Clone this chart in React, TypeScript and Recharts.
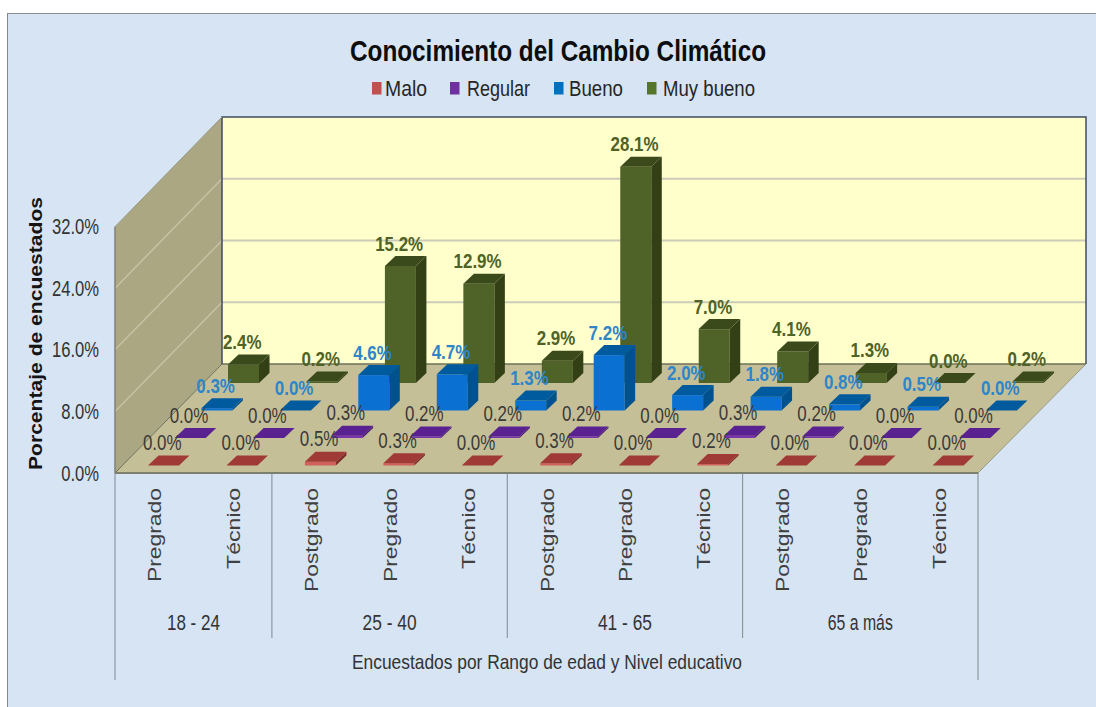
import React from "react";
import { ComposedChart, Bar, Line, XAxis, YAxis, LabelList } from "recharts";

const CHART_TITLE = "Conocimiento del Cambio Climático";
const X_TITLE = "Encuestados por Rango de edad y Nivel educativo";
const Y_TITLE = "Porcentaje de encuestados";

const levels = ["Pregrado", "Técnico", "Postgrado", "Pregrado", "Técnico", "Postgrado", "Pregrado", "Técnico", "Postgrado", "Pregrado", "Técnico"];
const ageGroups = ["18 - 24", "25 - 40", "41 - 65", "65 a más"];
const ageGroupSizes = [2, 3, 3, 3];

const malo = [0.0, 0.0, 0.5, 0.3, 0.0, 0.3, 0.0, 0.2, 0.0, 0.0, 0.0];
const regular = [0.0, 0.0, 0.3, 0.2, 0.2, 0.2, 0.0, 0.3, 0.2, 0.0, 0.0];
const bueno = [0.3, 0.0, 4.6, 4.7, 1.3, 7.2, 2.0, 1.8, 0.8, 0.5, 0.0];
const muyBueno = [2.4, 0.2, 15.2, 12.9, 2.9, 28.1, 7.0, 4.1, 1.3, 0.0, 0.2];
const yTicks = [0, 8, 16, 24, 32];

const rows = levels.map((nivel, i) => ({
  id: `${i}-${nivel}`,
  nivel,
  malo: malo[i],
  regular: regular[i],
  bueno: bueno[i],
  muyBueno: muyBueno[i],
}));

// Floor and wall geometry of the oblique projection.
const WIDTH = 1096;
const HEIGHT = 707;
const PLOT = { left: 115, right: 978, top: 226.7, bottom: 473 };
const BACK = { left: 222, right: 1086, top: 117, bottom: 364 };
const BAND = (PLOT.right - PLOT.left) / levels.length;
const BAR_DEPTH_X = 10.5;
const BAR_DEPTH_Y = 10;
const wallY = (v: number) => BACK.bottom - (v / 32) * (BACK.bottom - BACK.top);
const sideY = (v: number) => PLOT.bottom - (v / 32) * (PLOT.bottom - PLOT.top);

// Series are listed back to front, so nearer bars paint over farther ones.
const series = [
  { key: "muyBueno", name: "Muy bueno", dx: 89, dy: 90, front: "#4F6228", top: "#3B4A1B", side: "#333F14", label: "#4F6228", bold: true },
  { key: "bueno", name: "Bueno", dx: 62.4, dy: 62.5, front: "#0A70D2", top: "#005A9E", side: "#00528F", label: "#2E86C8", bold: true },
  { key: "regular", name: "Regular", dx: 35.7, dy: 35, front: "#7A35AE", top: "#5A2290", side: "#4B1C78", label: "#3A3A3A", bold: false },
  { key: "malo", name: "Malo", dx: 9, dy: 7.5, front: "#D0605A", top: "#A03A36", side: "#7F2D2B", label: "#3A3A3A", bold: false },
];
const legendItems = [
  { name: "Malo", color: "#C0504D", sq: 372, tx: 385, w: 42 },
  { name: "Regular", color: "#7030A0", sq: 450, tx: 467, w: 63 },
  { name: "Bueno", color: "#0070C0", sq: 554, tx: 569, w: 54 },
  { name: "Muy bueno", color: "#55752B", sq: 647, tx: 663, w: 92 },
];

const FONT = "'Liberation Sans', Arial, sans-serif";
const BOLD_LABEL_SIZE = 21;
const PLAIN_LABEL_SIZE = 22;
const groupLabelWidths = [53, 54, 54, 65];

// Width of a percentage string in a horizontally condensed Liberation Sans.
const valueWidth = (s: string, refSize = 20) => {
  let em = 0;
  for (const c of s) em += c === "." ? 0.278 : c === "%" ? 0.889 : 0.556;
  return em * refSize * 0.83;
};

const pct = (v: number) => `${v.toFixed(1)}%`;

const makeBarShape = (s: (typeof series)[number]) => (props: any) => {
  const { x, y, width, height } = props;
  const l = x + s.dx;
  const r = l + width;
  const t = y - s.dy;
  const b = t + Math.max(height, 0);
  return (
    <g>
      <rect x={l} y={t} width={width} height={Math.max(height, 0)} fill={s.front} />
      <polygon points={`${r},${t} ${r + BAR_DEPTH_X},${t - BAR_DEPTH_Y} ${r + BAR_DEPTH_X},${b - BAR_DEPTH_Y} ${r},${b}`} fill={s.side} />
      <polygon points={`${l},${t} ${r},${t} ${r + BAR_DEPTH_X},${t - BAR_DEPTH_Y} ${l + BAR_DEPTH_X},${t - BAR_DEPTH_Y}`} fill={s.top} />
    </g>
  );
};

const makeValueLabel = (s: (typeof series)[number]) => (props: any) => {
  const { x, y, value, index } = props;
  const text = pct(Number(value));
  return (
    <text
      key={index}
      x={x + s.dx - 1}
      y={y - s.dy - 15.5}
      textAnchor="middle"
      fontFamily={FONT}
      fontSize={s.bold ? BOLD_LABEL_SIZE : PLAIN_LABEL_SIZE}
      fontWeight={s.bold ? 700 : 400}
      fill={s.label}
      textLength={valueWidth(text, 20.4)}
      lengthAdjust="spacingAndGlyphs"
    >
      {text}
    </text>
  );
};

const firstOfGroup = ageGroupSizes.map((_, g) => ageGroupSizes.slice(0, g).reduce((a, n) => a + n, 0));

const CategoryTick = (props: any) => {
  const { x, index, payload } = props;
  const nivel = rows[index]?.nivel ?? payload.value;
  const len = nivel === "Postgrado" ? 104 : nivel === "Pregrado" ? 94 : 81;
  const g = firstOfGroup.indexOf(index);
  const edge = x - BAND / 2;
  return (
    <g>
      <text
        transform={`translate(${x + 7},488) rotate(-90)`}
        textAnchor="end"
        fontFamily={FONT}
        fontSize={18}
        fill="#404040"
        textLength={len}
        lengthAdjust="spacingAndGlyphs"
      >
        {nivel}
      </text>
      {g >= 0 && (
        <>
          <line x1={edge} x2={edge} y1={PLOT.bottom} y2={g === 0 ? 680 : 638} stroke="#7F8A92" strokeWidth={1} />
          <text
            x={edge + (ageGroupSizes[g] * BAND) / 2}
            y={629.5}
            textAnchor="middle"
            fontFamily={FONT}
            fontSize={22}
            fill="#333333"
            textLength={groupLabelWidths[g]}
            lengthAdjust="spacingAndGlyphs"
          >
            {ageGroups[g]}
          </text>
        </>
      )}
      {index === levels.length - 1 && (
        <line x1={x + BAND / 2} x2={x + BAND / 2} y1={PLOT.bottom} y2={680} stroke="#7F8A92" strokeWidth={1} />
      )}
    </g>
  );
};

const PercentTick = (props: any) => {
  const { x, y, payload } = props;
  const text = pct(Number(payload.value));
  return (
    <text
      x={x - 8}
      y={y + 7.5}
      textAnchor="end"
      fontFamily={FONT}
      fontSize={22}
      fill="#333333"
      textLength={valueWidth(text)}
      lengthAdjust="spacingAndGlyphs"
    >
      {text}
    </text>
  );
};

export default function App() {
  return (
    <div style={{ position: "absolute", left: 0, top: 0, width: WIDTH, height: HEIGHT, overflow: "hidden", background: "#FFFFFF" }}>
      <div
        style={{
          position: "absolute",
          left: 7,
          top: 13,
          right: 0,
          bottom: 0,
          background: "#D6E4F3",
          borderLeft: "1.5px solid #7F8A8A",
          borderTop: "1.5px solid #8E8E8E",
        }}
      />
      <div style={{ position: "absolute", left: 0, top: 0 }}>
        <ComposedChart
          width={WIDTH}
          height={HEIGHT}
          data={rows}
          margin={{ left: 55, right: WIDTH - PLOT.right, top: PLOT.top, bottom: 0 }}
        >
          {/* Back wall, left wall and floor */}
          <polygon
            points={`${BACK.left},${BACK.top} ${BACK.right},${BACK.top} ${BACK.right},${BACK.bottom} ${BACK.left},${BACK.bottom}`}
            fill="#FFFFCC"
          />
          <polygon
            points={`${PLOT.left},${PLOT.top} ${BACK.left},${BACK.top} ${BACK.left},${BACK.bottom} ${PLOT.left},${PLOT.bottom}`}
            fill="#ABA782"
          />
          <polygon
            points={`${PLOT.left},${PLOT.bottom} ${BACK.left},${BACK.bottom} ${BACK.right},${BACK.bottom} ${PLOT.right},${PLOT.bottom}`}
            fill="#C5BF97"
          />
          {yTicks.slice(1, -1).map((v) => (
            <g key={v}>
              <line x1={BACK.left} x2={BACK.right} y1={wallY(v)} y2={wallY(v)} stroke="#CBCBB8" strokeWidth={2} />
              <line x1={PLOT.left} x2={BACK.left} y1={sideY(v)} y2={wallY(v)} stroke="#C6C2A4" strokeWidth={1.5} />
            </g>
          ))}
          <line x1={BACK.left} x2={BACK.right} y1={BACK.bottom} y2={BACK.bottom} stroke="#6E7258" strokeWidth={1.5} />
          <polyline
            points={`${BACK.left},${BACK.bottom} ${BACK.left},${BACK.top} ${BACK.right},${BACK.top} ${BACK.right},${BACK.bottom}`}
            fill="none"
            stroke="#3F4C5C"
            strokeWidth={1.5}
          />
          <line x1={PLOT.left} x2={BACK.left} y1={PLOT.top} y2={BACK.top} stroke="#9A9A88" strokeWidth={1} />
          <line x1={PLOT.left} x2={BACK.left} y1={PLOT.bottom} y2={BACK.bottom} stroke="#6E7258" strokeWidth={1} />
          <line x1={PLOT.right} x2={BACK.right} y1={PLOT.bottom} y2={BACK.bottom} stroke="#9A9A88" strokeWidth={1} />

          <XAxis
            xAxisId="base"
            dataKey="id"
            interval={0}
            height={HEIGHT - PLOT.bottom}
            axisLine={{ stroke: "#7C7F6C", strokeWidth: 2 }}
            tickLine={false}
            tick={CategoryTick}
          />
          {series.map((s) => (
            <XAxis key={s.key} xAxisId={s.key} dataKey="id" hide />
          ))}
          <YAxis
            domain={[0, 32]}
            ticks={yTicks}
            width={60}
            axisLine={{ stroke: "#808078", strokeWidth: 1.5 }}
            tickLine={false}
            tick={PercentTick}
            interval={0}
          />

          {series.map((s) => (
            <Bar
              key={s.key}
              xAxisId={s.key}
              dataKey={s.key}
              name={s.name}
              barSize={31}
              shape={makeBarShape(s)}
              isAnimationActive={false}
            />
          ))}
          {series.map((s) => (
            <Line
              key={`${s.key}-labels`}
              xAxisId={s.key}
              dataKey={s.key}
              stroke="none"
              dot={false}
              activeDot={false}
              legendType="none"
              isAnimationActive={false}
            >
              <LabelList dataKey={s.key} content={makeValueLabel(s)} />
            </Line>
          ))}

          {/* Headings */}
          <text
            x={558}
            y={60.5}
            textAnchor="middle"
            fontFamily={FONT}
            fontSize={30}
            fontWeight={700}
            fill="#0D0D0D"
            textLength={416}
            lengthAdjust="spacingAndGlyphs"
          >
            {CHART_TITLE}
          </text>
          {legendItems.map((item) => (
            <g key={item.name}>
              <rect x={item.sq} y={82} width={9.5} height={12.5} fill={item.color} />
              <text
                x={item.tx}
                y={96}
                fontFamily={FONT}
                fontSize={22}
                fill="#262626"
                textLength={item.w}
                lengthAdjust="spacingAndGlyphs"
              >
                {item.name}
              </text>
            </g>
          ))}
          <text
            x={547}
            y={669}
            textAnchor="middle"
            fontFamily={FONT}
            fontSize={21}
            fill="#333333"
            textLength={390}
            lengthAdjust="spacingAndGlyphs"
          >
            {X_TITLE}
          </text>
          <text
            transform="translate(41.5,333.5) rotate(-90)"
            textAnchor="middle"
            fontFamily={FONT}
            fontSize={18}
            fontWeight={700}
            fill="#141414"
            textLength={273}
            lengthAdjust="spacingAndGlyphs"
          >
            {Y_TITLE}
          </text>
        </ComposedChart>
      </div>
    </div>
  );
}
